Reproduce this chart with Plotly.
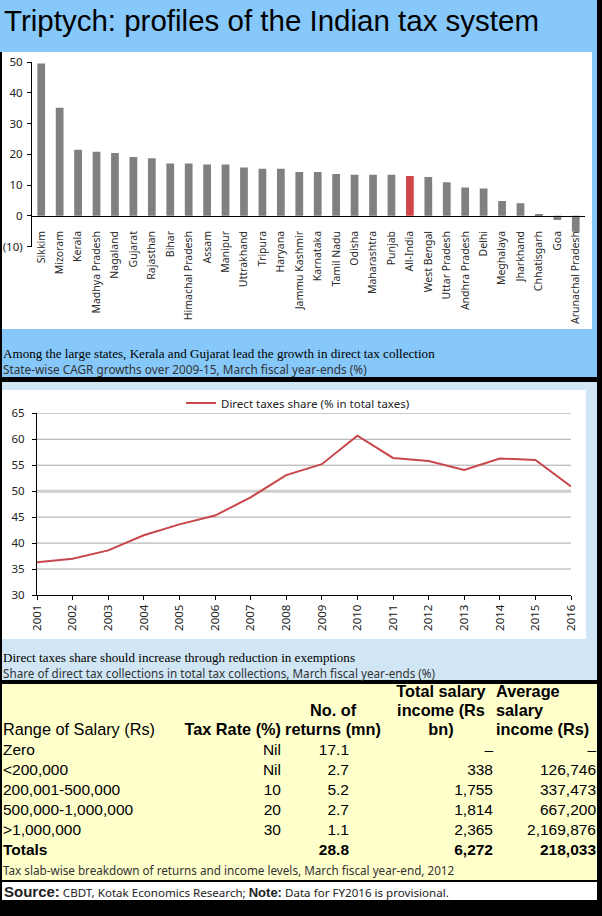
import plotly.graph_objects as go

W, H = 602, 916

# ---------------- data ----------------
states = ["Sikkim", "Mizoram", "Kerala", "Madhya Pradesh", "Nagaland", "Gujarat",
          "Rajasthan", "Bihar", "Himachal Pradesh", "Assam", "Manipur", "Uttrakhand",
          "Tripura", "Haryana", "Jammu Kashmir", "Karnataka", "Tamil Nadu", "Odisha",
          "Maharashtra", "Punjab", "All-India", "West Bengal", "Uttar Pradesh",
          "Andhra Pradesh", "Delhi", "Meghalaya", "Jharkhand", "Chhatisgarh", "Goa",
          "Arunachal Pradesh"]
cagr = [49.5, 35.1, 21.5, 20.8, 20.4, 19.1, 18.7, 17.0, 17.0, 16.7, 16.7, 15.7,
        15.3, 15.3, 14.2, 14.2, 13.6, 13.3, 13.3, 13.3, 12.9, 12.6, 10.9, 9.2, 8.9,
        4.8, 4.1, 0.3, -1.4, -5.2]
bar_ticks = [-10, 0, 10, 20, 30, 40, 50]
bar_ticktext = ["(10)", "0", "10", "20", "30", "40", "50"]

years = list(range(2001, 2017))
direct_share = [36.3, 37.0, 38.6, 41.5, 43.6, 45.3, 48.8, 53.1, 55.2, 60.7,
                56.4, 55.8, 54.1, 56.3, 56.0, 50.9]
line_grid = [35, 40, 45, 55, 60, 65]   # regular gridlines
line_grid_emph = 50                    # lighter, thicker gridline

slab_range = ["Zero", "<200,000", "200,001-500,000", "500,000-1,000,000", ">1,000,000"]
tax_rate = ["Nil", "Nil", "10", "20", "30"]
returns_mn = [17.1, 2.7, 5.2, 2.7, 1.1]
total_income_bn = [None, 338, 1755, 1814, 2365]
avg_income_rs = [None, 126746, 337473, 667200, 2169876]
totals_label = "Totals"
total_returns = 28.8
total_income = 6272
total_avg = 218033

# ---------------- helpers ----------------
def px(x):
    return x / W

def py(y):
    return 1 - y / H

SANS = "Noto Sans"
ARIAL = "Liberation Sans"
SERIF = "Liberation Serif"

fig = go.Figure()

# ---------------- panel 1: bars ----------------
bar_colors = ["#d2464a" if s == "All-India" else "#808080" for s in states]
fig.add_trace(go.Bar(x=states, y=cagr, marker=dict(color=bar_colors, line=dict(width=0)),
                     width=0.42, showlegend=False, xaxis="x", yaxis="y"))

y1_dom = [py(246.5), py(62)]
y1_rng = [-10, 50]
zero_pos = y1_dom[0] + (0 - y1_rng[0]) / (y1_rng[1] - y1_rng[0]) * (y1_dom[1] - y1_dom[0])

# ---------------- panel 2: line ----------------
fig.add_trace(go.Scatter(x=years, y=direct_share, mode="lines",
                         line=dict(color="#c8474b", width=2),
                         name="Direct taxes share (% in total taxes)",
                         xaxis="x2", yaxis="y2", showlegend=True))

# ---------------- panel 3: table ----------------
def fmt_int(v):
    return "–" if v is None else f"{v:,}"

rows = list(range(len(slab_range)))
tot_row = len(slab_range)
col_x = {"range": 3, "rate": 281, "ret": 349, "inc": 493, "avg": 596}
cell_font = dict(family=ARIAL, size=15.5, color="#000000")
head_font = dict(family=ARIAL, size=16.3, color="#000000")

def text_col(xs, ys, texts, pos, font=cell_font):
    fig.add_trace(go.Scatter(x=xs, y=ys, text=texts, mode="text", textposition=pos,
                             textfont=font, marker=dict(size=1), showlegend=False,
                             hoverinfo="skip", xaxis="x3", yaxis="y3", cliponaxis=False))

text_col([col_x["range"]] * (len(rows) + 1), rows + [tot_row],
         slab_range + ["<b>" + totals_label + "</b>"], "middle right")
text_col([col_x["rate"]] * len(rows), rows, tax_rate, "middle left")
text_col([col_x["ret"]] * (len(rows) + 1), rows + [tot_row],
         [f"{v:.1f}" for v in returns_mn] + [f"<b>{total_returns:.1f}</b>"], "middle left")
text_col([col_x["inc"]] * (len(rows) + 1), rows + [tot_row],
         [fmt_int(v) for v in total_income_bn] + [f"<b>{total_income:,}</b>"], "middle left")
text_col([col_x["avg"]] * (len(rows) + 1), rows + [tot_row],
         [fmt_int(v) for v in avg_income_rs] + [f"<b>{total_avg:,}</b>"], "middle left")

# header lines
hdr = [
    (3, -1, "Range of Salary (Rs)", "middle right"),
    (281, -1, "<b>Tax Rate (%)</b>", "middle left"),
    (333, -1.95, "<b>No. of</b>", "middle center"),
    (333, -1, "<b>returns (mn)</b>", "middle center"),
    (441, -2.9, "<b>Total salary</b>", "middle center"),
    (441, -1.95, "<b>income (Rs</b>", "middle center"),
    (441, -1, "<b>bn)</b>", "middle center"),
    (496, -2.9, "<b>Average</b>", "middle right"),
    (496, -1.95, "<b>salary</b>", "middle right"),
    (496, -1, "<b>income (Rs)</b>", "middle right"),
]
for hx, hy, ht, hp in hdr:
    text_col([hx], [hy], [ht], hp, head_font)

# ---------------- backgrounds ----------------
BLUE = "#86c8f9"
LBLUE = "#d0e6f4"
YEL = "#ffffcc"
shapes = []
def rect(x0, y0, x1, y1, color):
    shapes.append(dict(type="rect", xref="paper", yref="paper", x0=px(x0), x1=px(x1),
                       y0=py(y1), y1=py(y0), fillcolor=color, line=dict(width=0),
                       layer="below"))
rect(0, 0, 597, 52, BLUE)
rect(2, 52, 597, 377, BLUE)
rect(2, 52, 592, 329, "#ffffff")
rect(2, 382, 597, 680, LBLUE)
rect(2, 390, 586, 639, "#ffffff")
rect(2, 684, 597, 880, YEL)
rect(2, 882, 597, 900, "#ffffff")
# gridlines of the line chart
for g in line_grid:
    shapes.append(dict(type="line", xref="x2 domain", yref="y2", x0=0, x1=1, y0=g, y1=g,
                       line=dict(color="#a8a8a8", width=1), layer="below"))
shapes.append(dict(type="line", xref="x2 domain", yref="y2", x0=0, x1=1,
                   y0=line_grid_emph, y1=line_grid_emph,
                   line=dict(color="#cdcdcd", width=3), layer="below"))

# ---------------- text annotations ----------------
ann = []
def text(x, y, t, size, family, color="#000000", xanchor="left", yanchor="middle"):
    ann.append(dict(x=px(x), y=py(y), xref="paper", yref="paper", text=t, showarrow=False,
                    xanchor=xanchor, yanchor=yanchor, align="left",
                    font=dict(size=size, family=family, color=color)))

text(2, 20, "Triptych: profiles of the Indian tax system", 29.5, ARIAL)
text(1, 354, "Among the large states, Kerala and Gujarat lead the growth in direct tax collection",
     13.1, SERIF)
text(1, 369, "State-wise CAGR growths over 2009-15, March fiscal year-ends (%)", 11.8, SANS, "#333333")
text(1, 657, "Direct taxes share should increase through reduction in exemptions", 13.1, SERIF)
text(1, 673, "Share of direct tax collections in total tax collections, March fiscal year-ends (%)",
     11.7, SANS, "#333333")
text(1, 870, "Tax slab-wise breakdown of returns and income levels, March fiscal year-end, 2012",
     11.7, SANS, "#333333")
text(2, 891,
     "<b><span style='font-family:Liberation Sans;font-size:15px'>Source:</span></b> "
     "CBDT, Kotak Economics Research; <b><span style='font-family:Liberation Sans;font-size:13px'>Note:</span></b> "
     "Data for FY2016 is provisional.", 11.6, SANS, "#222222")

tick_font = dict(family=SANS, size=11.5, color="#222222")

fig.update_layout(
    template="none",
    width=W, height=H, margin=dict(l=0, r=0, t=0, b=0, pad=0, autoexpand=False),
    paper_bgcolor="#000000", plot_bgcolor="rgba(0,0,0,0)",
    shapes=shapes, annotations=ann,
    showlegend=True,
    legend=dict(x=0.495, xanchor="center", y=py(403), yanchor="middle", orientation="h",
                bgcolor="rgba(0,0,0,0)", font=dict(family=SANS, size=11.5, color="#222222")),
    xaxis=dict(domain=[px(32), px(585)], anchor="free", position=zero_pos, type="category",
               range=[-0.5, len(states) - 0.5], showline=True, linecolor="#000000", linewidth=1,
               ticks="", tickangle=-90, tickfont=dict(family=SANS, size=10.5, color="#2a2a2a"),
               ticklabelstandoff=10, showgrid=False, zeroline=False, fixedrange=True,
               automargin=False),
    yaxis=dict(domain=y1_dom, anchor="x", range=y1_rng, tickvals=bar_ticks, ticktext=bar_ticktext,
               showline=True, linecolor="#000000", linewidth=1, ticks="outside", ticklen=4,
               tickcolor="#000000", showgrid=False, zeroline=False, tickfont=tick_font,
               ticklabelstandoff=2, fixedrange=True, automargin=False),
    xaxis2=dict(domain=[px(37), px(571)], anchor="y2", range=[2001, 2016], tickvals=years,
                tickangle=-90, showline=True, linecolor="#000000", linewidth=1, ticks="outside",
                ticklen=4, tickcolor="#000000", showgrid=False, zeroline=False, tickfont=tick_font,
                fixedrange=True, automargin=False),
    yaxis2=dict(domain=[py(595), py(413.3)], anchor="x2", range=[30, 65], dtick=5,
                showline=True, linecolor="#000000", linewidth=1, ticks="outside", ticklen=4,
                tickcolor="#000000", showgrid=False,
                zeroline=False, tickfont=tick_font, ticklabelstandoff=5, fixedrange=True,
                automargin=False),
    xaxis3=dict(domain=[0, 1], anchor="y3", range=[0, W], visible=False, fixedrange=True,
                automargin=False),
    yaxis3=dict(domain=[py(880), py(684)], anchor="x3", range=[6.45, -3.35], visible=False,
                fixedrange=True, automargin=False),
)

fig.write_html("out.html", config={"displayModeBar": False},
               post_script="document.body.style.margin='0';document.body.style.background='#000';")
